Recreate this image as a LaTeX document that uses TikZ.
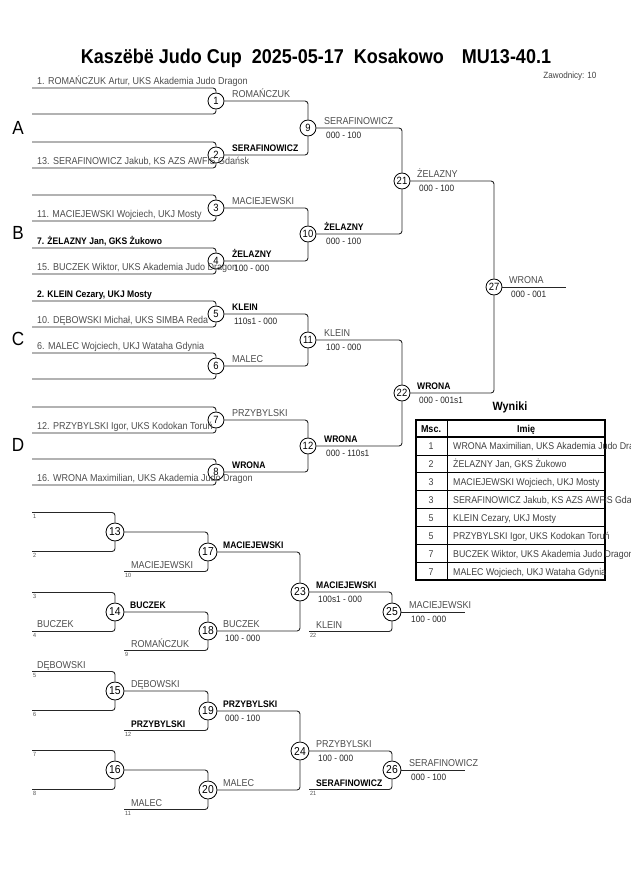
\documentclass[tikz,border=0pt]{standalone}
\usepackage{fontspec}
\setmainfont{Liberation Sans}[FakeStretch=0.9]
\usetikzlibrary{positioning}
\tikzset{
  bline/.style={line width=0.9pt, draw=black!85, rounded corners=3pt},
  fight/.style={circle, draw=black, line width=0.8pt, minimum size=16pt, inner sep=0pt,
    font=\fontsize{10.5}{11}\selectfont},
  rfight/.style={fight, minimum size=18pt, font=\fontsize{11.5}{12}\selectfont},
  player/.style={anchor=base west, inner sep=0pt, font=\fontsize{10}{11}\selectfont, text=black!70},
  winner/.style={anchor=base west, inner sep=0pt, font=\fontsize{9.5}{10}\selectfont\bfseries, text=black},
  score/.style={anchor=base west, inner sep=0pt, font=\fontsize{9.2}{10}\selectfont, text=black!85},
  seed/.style={anchor=north west, inner sep=0pt, font=\fontsize{6}{6}\selectfont, text=black!70},
  pool/.style={font=\fontsize{19}{20}\selectfont},
  cell/.style={anchor=base, inner sep=0pt, font=\fontsize{9.8}{11}\selectfont, text=black!75},
  cellname/.style={anchor=base west, inner sep=0pt, font=\fontsize{9.8}{11}\selectfont, text=black!75},
  head/.style={anchor=base, inner sep=0pt, font=\fontsize{10}{11}\selectfont\bfseries}
}
\begin{document}
\begin{tikzpicture}[x=1pt, y=-1pt]
    \useasboundingbox (0,0) rectangle (630,891);

    % Title
    \node[font=\fontsize{20}{22}\selectfont\bfseries] (title) at (316,58)
      {Kaszëbë Judo Cup\hspace{0.5em}2025-05-17\hspace{0.5em}Kosakowo\hspace{0.9em}MU13-40.1};
    \node[anchor=east, font=\fontsize{9}{10}\selectfont, text=black!75] (count) at (600,76) {Zawodnicy: 10};

    % Pools
    \node[pool] (pa) at (18,128) {A};
    \node[pool] (pb) at (18,233) {B};
    \node[pool] (pc) at (18,339) {C};
    \node[pool] (pd) at (18,445) {D};

    % Main bracket, round 1
    \foreach \n/\y in {1/101,2/155,3/208,4/261,5/314,6/366,7/420,8/472}{
      \node[fight] (m\n) at (216,\y) {\n};
      \coordinate (t\n) at (32,\y-13);
      \coordinate (b\n) at (32,\y+13);
      \draw[bline] (t\n) -| (m\n.north);
      \draw[bline] (b\n) -| (m\n.south);
    }
    % Main bracket, later rounds
    \foreach \n/\x/\y/\a/\b in {9/308/128/1/2, 10/308/234/3/4, 11/308/340/5/6, 12/308/446/7/8,
                                21/402/181/9/10, 22/402/393/11/12, 27/494/287/21/22}{
      \node[fight] (m\n) at (\x,\y) {\n};
      \draw[bline] (m\a.east) -| (m\n.north);
      \draw[bline] (m\b.east) -| (m\n.south);
    }
    \coordinate (fin) at (566,287);
    \draw[bline] (m27.east) -- (fin);

    % Competitors
    \node[player] (p1) at (37,84.5) {1. ROMAŃCZUK Artur, UKS Akademia Judo Dragon};
    \node[player] (p13) at (37,164.5) {13. SERAFINOWICZ Jakub, KS AZS AWFiS Gdańsk};
    \node[player] (p11) at (37,217.5) {11. MACIEJEWSKI Wojciech, UKJ Mosty};
    \node[winner] (p7) at (37,244.5) {7. ŻELAZNY Jan, GKS Żukowo};
    \node[player] (p15) at (37,270.5) {15. BUCZEK Wiktor, UKS Akademia Judo Dragon};
    \node[winner] (p2) at (37,297.5) {2. KLEIN Cezary, UKJ Mosty};
    \node[player] (p10) at (37,323.5) {10. DĘBOWSKI Michał, UKS SIMBA Reda};
    \node[player] (p6) at (37,349.5) {6. MALEC Wojciech, UKJ Wataha Gdynia};
    \node[player] (p12) at (37,429.5) {12. PRZYBYLSKI Igor, UKS Kodokan Toruń};
    \node[player] (p16) at (37,481.5) {16. WRONA Maximilian, UKS Akademia Judo Dragon};

    % Winners and scores
    \node[player] (w1) at (232,97.5) {ROMAŃCZUK};
    \node[winner] (w2) at (232,151.5) {SERAFINOWICZ};
    \node[player] (w3) at (232,204.5) {MACIEJEWSKI};
    \node[winner] (w4) at (232,257.5) {ŻELAZNY};
    \node[score] (s4) at (234,271) {100 - 000};
    \node[winner] (w5) at (232,310.5) {KLEIN};
    \node[score] (s5) at (234,324) {110s1 - 000};
    \node[player] (w6) at (232,362.5) {MALEC};
    \node[player] (w7) at (232,416.5) {PRZYBYLSKI};
    \node[winner] (w8) at (232,468.5) {WRONA};

    \node[player] (w9) at (324,124.5) {SERAFINOWICZ};
    \node[score] (s9) at (326,138) {000 - 100};
    \node[winner] (w10) at (324,230.5) {ŻELAZNY};
    \node[score] (s10) at (326,244) {000 - 100};
    \node[player] (w11) at (324,336.5) {KLEIN};
    \node[score] (s11) at (326,350) {100 - 000};
    \node[winner] (w12) at (324,442.5) {WRONA};
    \node[score] (s12) at (326,456) {000 - 110s1};

    \node[player] (w21) at (417,177.5) {ŻELAZNY};
    \node[score] (s21) at (419,191) {000 - 100};
    \node[winner] (w22) at (417,389.5) {WRONA};
    \node[score] (s22) at (419,403) {000 - 001s1};
    \node[player] (w27) at (509,283.5) {WRONA};
    \node[score] (s27) at (511,297) {000 - 001};

    % Results
    \node[font=\fontsize{12}{13}\selectfont\bfseries] (wyniki) at (510,407) {Wyniki};
    \foreach \k in {1,...,7}
      \draw[line width=0.7pt] (416,{437+17.875*\k}) -- (605,{437+17.875*\k});
    \draw[line width=0.7pt] (447,420) -- (447,580);
    \draw[line width=1.2pt] (416,437) -- (605,437);
    \draw[line width=1.6pt] (416,420) rectangle (605,580);
    \node[head] (hmsc) at (431,432) {Msc.};
    \node[head] (himie) at (526,432) {Imię};
    \foreach \k/\m/\nm in {1/1/{WRONA Maximilian, UKS Akademia Judo Dragon},
                           2/2/{ŻELAZNY Jan, GKS Żukowo},
                           3/3/{MACIEJEWSKI Wojciech, UKJ Mosty},
                           4/3/{SERAFINOWICZ Jakub, KS AZS AWFiS Gdańsk},
                           5/5/{KLEIN Cezary, UKJ Mosty},
                           6/5/{PRZYBYLSKI Igor, UKS Kodokan Toruń},
                           7/7/{BUCZEK Wiktor, UKS Akademia Judo Dragon},
                           8/7/{MALEC Wojciech, UKJ Wataha Gdynia}}{
      \node[cell] (rm\k) at (431,{437+17.875*\k-5}) {\m};
      \node[cellname] (rn\k) at (453,{437+17.875*\k-5}) {\nm};
    }

    % Repechage, round 1
    \foreach \n/\y/\a/\b in {13/532/1/2, 14/612/3/4, 15/691/5/6, 16/770/7/8}{
      \node[rfight] (m\n) at (115,\y) {\n};
      \coordinate (r\a) at (32,\y-19.5);
      \coordinate (r\b) at (32,\y+19.5);
      \draw[bline] (r\a) -| (m\n.north);
      \draw[bline] (r\b) -| (m\n.south);
      \node[seed] (k\a) at (33,\y-18) {\a};
      \node[seed] (k\b) at (33,\y+21) {\b};
    }
    % Repechage, round 2
    \foreach \n/\y/\a/\b in {17/552/13/10, 18/631/14/9, 19/711/15/12, 20/790/16/11}{
      \node[rfight] (m\n) at (208,\y) {\n};
      \coordinate (q\n) at (124,\y+19.5);
      \draw[bline] (m\a.east) -| (m\n.north);
      \draw[bline] (q\n) -| (m\n.south);
      \node[seed] (k\n) at (125,\y+21) {\b};
    }
    % Repechage, round 3
    \foreach \n/\y/\a/\b in {23/592/17/18, 24/751/19/20}{
      \node[rfight] (m\n) at (300,\y) {\n};
      \draw[bline] (m\a.east) -| (m\n.north);
      \draw[bline] (m\b.east) -| (m\n.south);
    }
    % Repechage, bronze fights
    \foreach \n/\y/\a/\b in {25/612/23/22, 26/770/24/21}{
      \node[rfight] (m\n) at (392,\y) {\n};
      \coordinate (q\n) at (309,\y+19.5);
      \coordinate (e\n) at (465,\y);
      \draw[bline] (m\a.east) -| (m\n.north);
      \draw[bline] (q\n) -| (m\n.south);
      \draw[bline] (m\n.east) -- (e\n);
      \node[seed] (k\n) at (310,\y+21) {\b};
    }

    % Repechage names
    \node[player] (x4) at (37,627.5) {BUCZEK};
    \node[player] (x5) at (37,668) {DĘBOWSKI};
    \node[player] (x17) at (131,568) {MACIEJEWSKI};
    \node[winner] (x14) at (130,608.5) {BUCZEK};
    \node[player] (x18) at (131,647) {ROMAŃCZUK};
    \node[player] (x15) at (131,687.5) {DĘBOWSKI};
    \node[winner] (x19) at (131,727) {PRZYBYLSKI};
    \node[player] (x20) at (131,806) {MALEC};
    \node[winner] (y17) at (223,548.5) {MACIEJEWSKI};
    \node[player] (y18) at (223,627.5) {BUCZEK};
    \node[score] (z18) at (225,641) {100 - 000};
    \node[winner] (y19) at (223,707.5) {PRZYBYLSKI};
    \node[score] (z19) at (225,721) {000 - 100};
    \node[player] (y20) at (223,786.5) {MALEC};
    \node[winner] (y23) at (316,588.5) {MACIEJEWSKI};
    \node[score] (z23) at (318,602) {100s1 - 000};
    \node[player] (x25) at (316,628) {KLEIN};
    \node[player] (y24) at (316,747.5) {PRZYBYLSKI};
    \node[score] (z24) at (318,761) {100 - 000};
    \node[winner] (x26) at (316,786) {SERAFINOWICZ};
    \node[player] (y25) at (409,608.5) {MACIEJEWSKI};
    \node[score] (z25) at (411,622) {100 - 000};
    \node[player] (y26) at (409,766.5) {SERAFINOWICZ};
    \node[score] (z26) at (411,780) {000 - 100};
\end{tikzpicture}
\end{document}
